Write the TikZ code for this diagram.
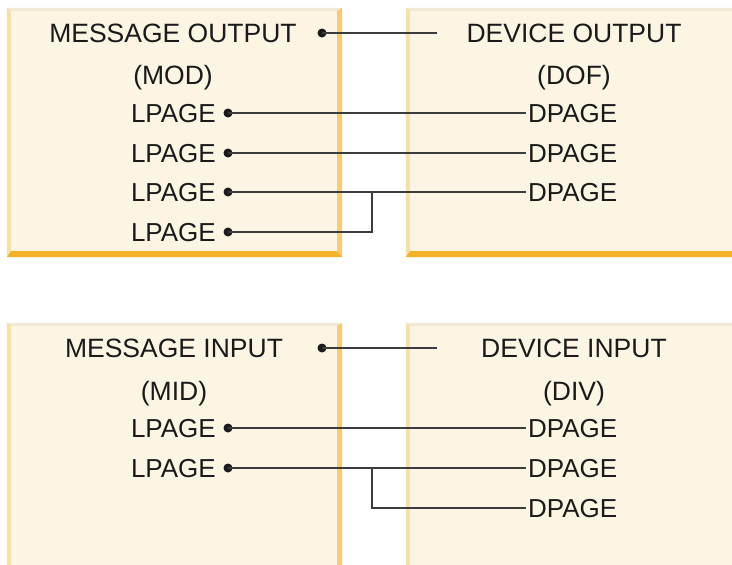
\documentclass[tikz,border=0pt]{standalone}
\usepackage{fontspec}
\setmainfont{Liberation Sans}
\usetikzlibrary{positioning}

\definecolor{panelfill}{HTML}{FDF5E4}
\definecolor{beveltop}{HTML}{F1E8D6}
\definecolor{bevelleft}{HTML}{F5E1A9}
\definecolor{bevelright}{HTML}{F9CB6E}
\definecolor{bevelbottom}{HTML}{F6B12B}
\definecolor{ink}{HTML}{1A1A1A}

\begin{document}
\begin{tikzpicture}[
  x=1pt, y=-1pt,
  panel/.style={fill=panelfill, draw=none, inner sep=0pt, minimum width=335pt},
  lbl/.style={inner sep=0pt, text height=18.6pt, text depth=0pt, text=ink, font=\fontsize{26}{30}\selectfont},
  ttl/.style={lbl, font=\fontsize{26.5}{30}\selectfont},
  link/.style={draw=ink!85, line width=2pt},
  pin/.style={fill=ink, draw=none, circle, inner sep=0pt, minimum size=9pt}
]
\useasboundingbox (0,0) rectangle (732,565);
\clip (0,0) rectangle (732,565);

% panels
\node[panel, minimum height=249pt] (mod) at (174.5,132.5) {};
\node[panel, minimum height=249pt] (dof) at (573.5,132.5) {};
\node[panel, minimum height=255pt] (mid) at (174.5,450.5) {};
\node[panel, minimum height=255pt] (div) at (573.5,450.5) {};
\foreach \b in {mod,dof,mid,div}{
  \fill[beveltop] (\b.north west) -- (\b.north east) -- ([shift={(-5,3)}]\b.north east) -- ([shift={(4,3)}]\b.north west) -- cycle;
  \fill[bevelleft] (\b.north west) -- ([shift={(4,3)}]\b.north west) -- ([shift={(4,-6)}]\b.south west) -- (\b.south west) -- cycle;
  \fill[bevelright] (\b.north east) -- ([shift={(-5,3)}]\b.north east) -- ([shift={(-5,-6)}]\b.south east) -- (\b.south east) -- cycle;
  \fill[bevelbottom] (\b.south west) -- ([shift={(4,-6)}]\b.south west) -- ([shift={(-5,-6)}]\b.south east) -- (\b.south east) -- cycle;
}

% output side
\node[ttl] (modt) at (173,33) {MESSAGE OUTPUT};
\node[ttl] (modn) at (173,75) {(MOD)};
\node[ttl] (doft) at (574,33) {DEVICE OUTPUT};
\node[ttl] (dofn) at (574,75) {(DOF)};
\node[pin] (mo) at (322,33) {};
\coordinate (mo-end) at (437,33);
\foreach \i/\y in {1/113,2/153,3/192,4/232}{
  \node[lbl, anchor=east] (ol\i) at (216,\y) {LPAGE};
  \node[pin] (op\i) at (228,\y) {};
}
\foreach \i/\y in {1/113,2/153,3/192}{
  \node[lbl, anchor=west, inner xsep=2pt] (od\i) at (526,\y) {DPAGE};
}
\coordinate (oj) at (372,192);
\draw[link] (mo.center) -- (mo-end);
\draw[link] (op1.center) -- (od1.west);
\draw[link] (op2.center) -- (od2.west);
\draw[link] (op3.center) -- (od3.west);
\draw[link] (op4.center) -| (oj);

% input side
\node[ttl] (midt) at (174,348) {MESSAGE INPUT};
\node[ttl] (midn) at (174,391) {(MID)};
\node[ttl] (divt) at (574,348) {DEVICE INPUT};
\node[ttl] (divn) at (574,391) {(DIV)};
\node[pin] (mi) at (322,348) {};
\coordinate (mi-end) at (437,348);
\foreach \i/\y in {1/428,2/468}{
  \node[lbl, anchor=east] (il\i) at (216,\y) {LPAGE};
  \node[pin] (ip\i) at (228,\y) {};
}
\foreach \i/\y in {1/428,2/468,3/508}{
  \node[lbl, anchor=west, inner xsep=2pt] (id\i) at (526,\y) {DPAGE};
}
\coordinate (ij) at (372,468);
\draw[link] (mi.center) -- (mi-end);
\draw[link] (ip1.center) -- (id1.west);
\draw[link] (ip2.center) -- (id2.west);
\draw[link] (ij) |- (id3.west);
\end{tikzpicture}
\end{document}
